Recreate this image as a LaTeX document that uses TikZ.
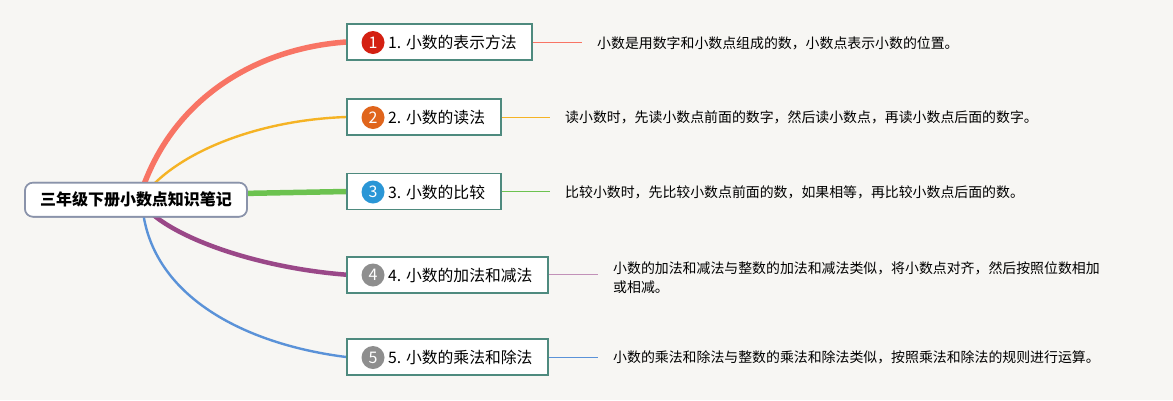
\documentclass[tikz,border=0pt]{standalone}
\usepackage{fontspec}
\setmainfont{Noto Sans CJK SC}
\definecolor{bg}{HTML}{F7F6F3}
\definecolor{boxline}{HTML}{4E8A7E}
\definecolor{rootline}{HTML}{8A93AA}
\definecolor{cA}{HTML}{F87464}
\definecolor{cB}{HTML}{F5B324}
\definecolor{cC}{HTML}{6CC24F}
\definecolor{cD}{HTML}{9A4888}
\definecolor{cE}{HTML}{5A92D8}
\definecolor{bA}{HTML}{D42012}
\definecolor{bB}{HTML}{E0651C}
\definecolor{bC}{HTML}{2A96D6}
\definecolor{bD}{HTML}{8E8E8E}
\definecolor{bE}{HTML}{8E8E8E}
\tikzset{
  rootbox/.style={draw=rootline, line width=1.6pt, fill=white, rounded corners=8pt,
    minimum width=222pt, minimum height=34pt, inner sep=0pt,
    font=\fontsize{16}{18}\selectfont\bfseries},
  topicbox/.style={draw=boxline, line width=1.6pt, fill=white,
    minimum height=36pt, inner sep=0pt},
  badge/.style={circle, minimum size=23pt, inner sep=0pt, text=white,
    font=\fontsize{16}{16}\selectfont},
  topictext/.style={anchor=west, inner sep=0pt, font=\fontsize{15.8}{18}\selectfont},
  desc/.style={anchor=west, inner sep=0pt, align=left,
    font=\fontsize{13.9}{19}\selectfont},
  branch/.style={line cap=round},
}
\begin{document}
\begin{tikzpicture}[x=1pt,y=-1pt]
\useasboundingbox (0,0) rectangle (1173,400);
\fill[bg] (0,0) rectangle (1173,400);

\coordinate (sA) at (142,190);
\coordinate (sB) at (150,188);
\coordinate (sC) at (240,193.5);
\coordinate (sD) at (150,212);
\coordinate (sE) at (143,212);

% root and topic boxes (named, for anchors)
\node[rootbox] (root) at (136,199.7) {三年级下册小数点知识笔记};
\node[topicbox, minimum width=185pt] (b1) at (439.5,42) {};
\node[topicbox, minimum width=154pt] (b2) at (424,117) {};
\node[topicbox, minimum width=154pt] (b3) at (424,191.5) {};
\node[topicbox, minimum width=201pt] (b4) at (447.5,274.7) {};
\node[topicbox, minimum width=201pt] (b5) at (447.5,357) {};

% branches
\draw[branch, cA, line width=5.5pt] (sA) .. controls (175,95) and (260,48) .. (b1.west);
\draw[branch, cB, line width=2.4pt] (sB) .. controls (185,150) and (260,120) .. (b2.west);
\draw[branch, cC, line width=5.5pt] (sC) -- (b3.west);
\draw[branch, cD, line width=4.5pt] (sD) .. controls (180,240) and (260,268) .. (b4.west);
\draw[branch, cE, line width=2.4pt] (sE) .. controls (155,300) and (250,345) .. (b5.west);

% redraw root and boxes over branches
\node[rootbox] at (root.center) {三年级下册小数点知识笔记};
\node[topicbox, minimum width=185pt] at (b1.center) {};
\node[topicbox, minimum width=154pt] at (b2.center) {};
\node[topicbox, minimum width=154pt] at (b3.center) {};
\node[topicbox, minimum width=201pt] at (b4.center) {};
\node[topicbox, minimum width=201pt] at (b5.center) {};

% badges and labels
\node[badge, fill=bA] (k1) at (373,42.5) {1};
\node[topictext] (t1) at (388,42.5) {1. 小数的表示方法};
\node[badge, fill=bB] (k2) at (373,117.5) {2};
\node[topictext] (t2) at (388,117.5) {2. 小数的读法};
\node[badge, fill=bC] (k3) at (373,192) {3};
\node[topictext] (t3) at (388,192) {3. 小数的比较};
\node[badge, fill=bD] (k4) at (373,275) {4};
\node[topictext] (t4) at (388,275) {4. 小数的加法和减法};
\node[badge, fill=bE] (k5) at (373,357.5) {5};
\node[topictext] (t5) at (388,357.5) {5. 小数的乘法和除法};

% descriptions
\node[desc] (d1) at (597,43) {小数是用数字和小数点组成的数，小数点表示小数的位置。};
\node[desc] (d2) at (565,117.5) {读小数时，先读小数点前面的数字，然后读小数点，再读小数点后面的数字。};
\node[desc] (d3) at (565,192) {比较小数时，先比较小数点前面的数，如果相等，再比较小数点后面的数。};
\node[desc] (d4) at (613,277.5) {小数的加法和减法与整数的加法和减法类似，将小数点对齐，然后按照位数相加\\或相减。};
\node[desc] (d5) at (613,357.5) {小数的乘法和除法与整数的乘法和除法类似，按照乘法和除法的规则进行运算。};

% description connectors
\draw[cA, line width=0.8pt] (b1.east) -- ([xshift=-15pt]d1.west |- b1.east);
\draw[cB, line width=0.8pt] (b2.east) -- ([xshift=-15pt]d2.west |- b2.east);
\draw[cC, line width=0.8pt] (b3.east) -- ([xshift=-15pt]d3.west |- b3.east);
\draw[cD!60, line width=0.8pt] (b4.east) -- ([xshift=-15pt]d4.west |- b4.east);
\draw[cE, line width=0.8pt] (b5.east) -- ([xshift=-15pt]d5.west |- b5.east);
\end{tikzpicture}
\end{document}
